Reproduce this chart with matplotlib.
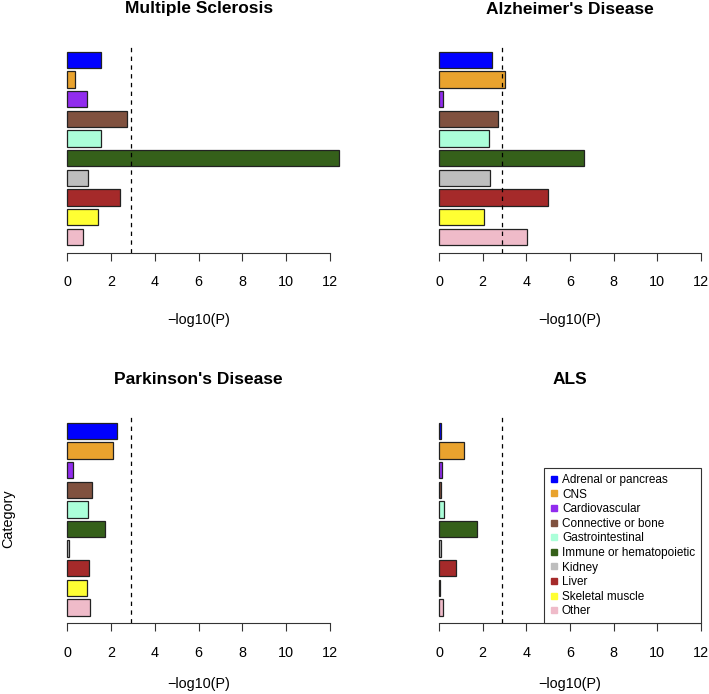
import matplotlib
matplotlib.use("Agg")
import matplotlib.pyplot as plt
from matplotlib.lines import Line2D

plt.rcParams['font.family'] = ['Liberation Sans', 'DejaVu Sans']

# categories, top to bottom as in the figure
categories = ["Adrenal or pancreas", "CNS", "Cardiovascular", "Connective or bone",
              "Gastrointestinal", "Immune or hematopoietic", "Kidney", "Liver",
              "Skeletal muscle", "Other"]
colors = ["#0000FF", "#E9A32E", "#912CEE", "#80513F", "#ABFFD9",
          "#35601A", "#BEBEBE", "#A52A2A", "#FFFF33", "#EFBBC9"]

diseases = ["Multiple Sclerosis", "Alzheimer's Disease", "Parkinson's Disease", "ALS"]
ms_vals = [1.54, 0.33, 0.88, 2.72, 1.54, 12.42, 0.94, 2.42, 1.42, 0.70]
ad_vals = [2.41, 3.01, 0.18, 2.70, 2.31, 6.64, 2.32, 4.98, 2.05, 4.02]
pd_vals = [2.25, 2.07, 0.27, 1.11, 0.94, 1.72, 0.06, 0.99, 0.88, 1.04]
als_vals = [0.08, 1.16, 0.15, 0.08, 0.24, 1.73, 0.11, 0.78, 0.03, 0.18]
threshold = 2.9

W, H = 709, 694
fig = plt.figure(figsize=(W / 100, H / 100), dpi=100)

# plot regions in pixels: left, top, right, bottom
rects = [(67.3, 44, 330, 252.7), (439, 44, 701, 252.7),
         (67.3, 415, 330, 623.3), (439, 415, 701, 623.3)]
xlab_off = [-67, -67, -61, -61]

all_vals = [ms_vals, ad_vals, pd_vals, als_vals]
n = len(categories)
ypos = [0.7 + 1.2 * (n - 1 - i) for i in range(n)]

axes = []
for k, (l, t, r, b) in enumerate(rects):
    ax = fig.add_axes([l / W, 1 - b / H, (r - l) / W, (b - t) / H])
    bars = ax.barh(ypos, all_vals[k], height=1.0, color=colors, edgecolor="#222222", linewidth=0.9)
    for p in bars:
        p.set_clip_on(False)  # R lets bars run past the axis end
    ax.axvline(threshold, color="black", lw=0.9, linestyle=(0, (3.5, 3.5)))
    ax.set_xlim(0, 12)
    ax.set_ylim(-0.272, 12.472)
    for s in ["top", "right", "left"]:
        ax.spines[s].set_visible(False)
    ax.spines["bottom"].set_bounds(0, 12)
    ax.spines["bottom"].set_color("#333333")
    ax.set_xticks(range(0, 13, 2))
    ax.set_yticks([])
    ax.tick_params(axis="x", direction="out", length=6, width=0.8, color="#333333",
                   labelsize=10.4, pad=10)
    ax.annotate(diseases[k], xy=(0.5, 1), xycoords="axes fraction", xytext=(0, 35),
                textcoords="offset pixels", ha="center", va="center",
                fontsize=12.5, fontweight="bold")
    ax.annotate("\u2212log10(P)", xy=(0.5, 0), xycoords="axes fraction", xytext=(0, xlab_off[k]),
                textcoords="offset pixels", ha="center", va="center", fontsize=10.4)
    axes.append(ax)

axes[2].annotate("Category", xy=(0, 0.5), xycoords="axes fraction", xytext=(-59, 0),
                 textcoords="offset pixels", ha="center", va="center",
                 rotation=90, fontsize=10.4)

handles = [Line2D([], [], marker="s", linestyle="none", markersize=4,
                  markerfacecolor=c, markeredgecolor=c) for c in colors]
leg = axes[3].legend(handles, categories, loc="lower right", bbox_to_anchor=(1, 0),
                     borderaxespad=0, fontsize=8.5, frameon=True, fancybox=False,
                     framealpha=1, edgecolor="#333333", handlelength=0.6,
                     handletextpad=0.4, labelspacing=0.22, borderpad=0.5)
leg.get_frame().set_linewidth(0.8)

fig.savefig("out.png", dpi=100)
